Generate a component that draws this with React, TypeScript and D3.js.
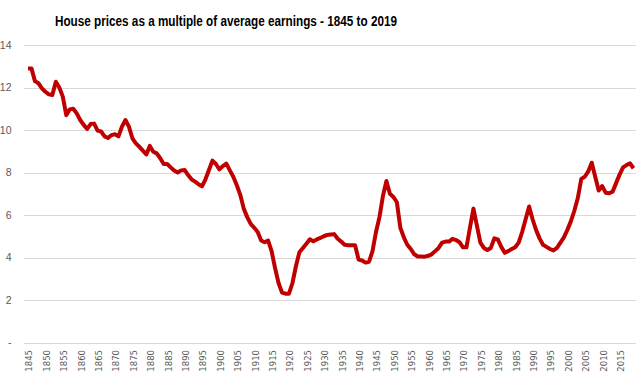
import React from "react";
import * as d3 from "d3";

const title = "House prices as a multiple of average earnings - 1845 to 2019";
const startYear = 1845;
const endYear = 2019;
const values: number[] = [
  // 1845-1899
  12.9, 12.9, 12.3, 12.2, 11.96, 11.8, 11.68, 11.65, 12.27, 12.0,
  11.57, 10.7, 10.97, 11.0, 10.78, 10.47, 10.24, 10.05, 10.28, 10.3,
  9.97, 9.93, 9.7, 9.62, 9.76, 9.8, 9.7, 10.16, 10.47, 10.16,
  9.61, 9.37, 9.21, 9.03, 8.85, 9.25, 8.98, 8.9, 8.67, 8.4,
  8.4, 8.24, 8.09, 8.0, 8.1, 8.12, 7.88, 7.68, 7.57, 7.45,
  7.35, 7.68, 8.12, 8.56, 8.4,
  // 1900-1957
  8.15, 8.3, 8.42, 8.1, 7.8, 7.4, 6.95, 6.3, 5.9, 5.58,
  5.4, 5.2, 4.8, 4.72, 4.8, 4.3, 3.5, 2.8, 2.35, 2.3,
  2.3, 2.8, 3.6, 4.25, 4.45, 4.65, 4.86, 4.76, 4.85, 4.92,
  5.0, 5.06, 5.08, 5.1, 4.88, 4.75, 4.6, 4.58, 4.58, 4.58,
  3.9, 3.86, 3.76, 3.8, 4.3, 5.2, 5.9, 6.9, 7.6, 7.0,
  6.85, 6.6, 5.4, 4.95, 4.6, 4.4, 4.15, 4.05,
  // 1958-2019
  4.05, 4.04, 4.08, 4.15, 4.3, 4.45, 4.7, 4.75, 4.75, 4.88,
  4.82, 4.72, 4.48, 4.48, 5.4, 6.3, 5.5, 4.7, 4.45, 4.35,
  4.45, 4.9, 4.85, 4.5, 4.22, 4.3, 4.4, 4.48, 4.7, 5.2,
  5.8, 6.4, 5.8, 5.3, 4.9, 4.6, 4.5, 4.4, 4.33, 4.45,
  4.7, 4.95, 5.3, 5.7, 6.2, 6.8, 7.7, 7.8, 8.05, 8.46,
  7.8, 7.15, 7.36, 7.05, 7.02, 7.1, 7.5, 7.9, 8.24, 8.35,
  8.43, 8.2,
];
const years: number[] = d3.range(startYear, endYear + 1);
const yTicks: number[] = [0, 2, 4, 6, 8, 10, 12, 14];
const xTickYears: number[] = d3.range(1845, 2016, 5);

export default function App() {
  const W = 636;
  const H = 382;
  const x = d3.scaleLinear().domain([startYear, endYear]).range([28, 633.5]);
  const y = d3.scaleLinear().domain([0, 14]).range([342.5, 45]);
  const data = years.map((yr, i) => ({ yr, v: values[i] }));
  const line = d3
    .line<{ yr: number; v: number }>()
    .x((d) => x(d.yr))
    .y((d) => y(d.v));

  return (
    <svg
      width={W}
      height={H}
      style={{ position: "absolute", left: 0, top: 0, background: "#fff" }}
    >
      <rect width={W} height={H} fill="#fff" />
      <text
        x={55}
        y={26}
        fontFamily="Liberation Sans, Arial, sans-serif"
        fontWeight="bold"
        fontSize={14}
        fill="#000"
        textLength={342}
        lengthAdjust="spacingAndGlyphs"
      >
        {title}
      </text>
      {yTicks.map((t) => (
        <g key={t}>
          <line
            x1={24}
            x2={W}
            y1={Math.round(y(t)) + 0.5}
            y2={Math.round(y(t)) + 0.5}
            stroke="#d9d9d9"
            strokeWidth={1}
          />
          <text
            x={11.5}
            y={y(t)}
            dy="0.35em"
            textAnchor="end"
            fontFamily="Liberation Sans, Arial, sans-serif"
            fontSize={10.5}
            fill="#595959"
          >
            {t === 0 ? "-" : t}
          </text>
        </g>
      ))}
      {xTickYears.map((yr) => (
        <text
          key={yr}
          transform={`translate(${x(yr) + 1.5},350) rotate(-90)`}
          dy="0.35em"
          textAnchor="end"
          fontFamily="DejaVu Sans, sans-serif"
          fontSize={8.5}
          fill="#595959"
        >
          {yr}
        </text>
      ))}
      <path
        d={line(data) || ""}
        fill="none"
        stroke="#c00000"
        strokeWidth={4}
        strokeLinejoin="round"
        strokeLinecap="butt"
      />
    </svg>
  );
}
